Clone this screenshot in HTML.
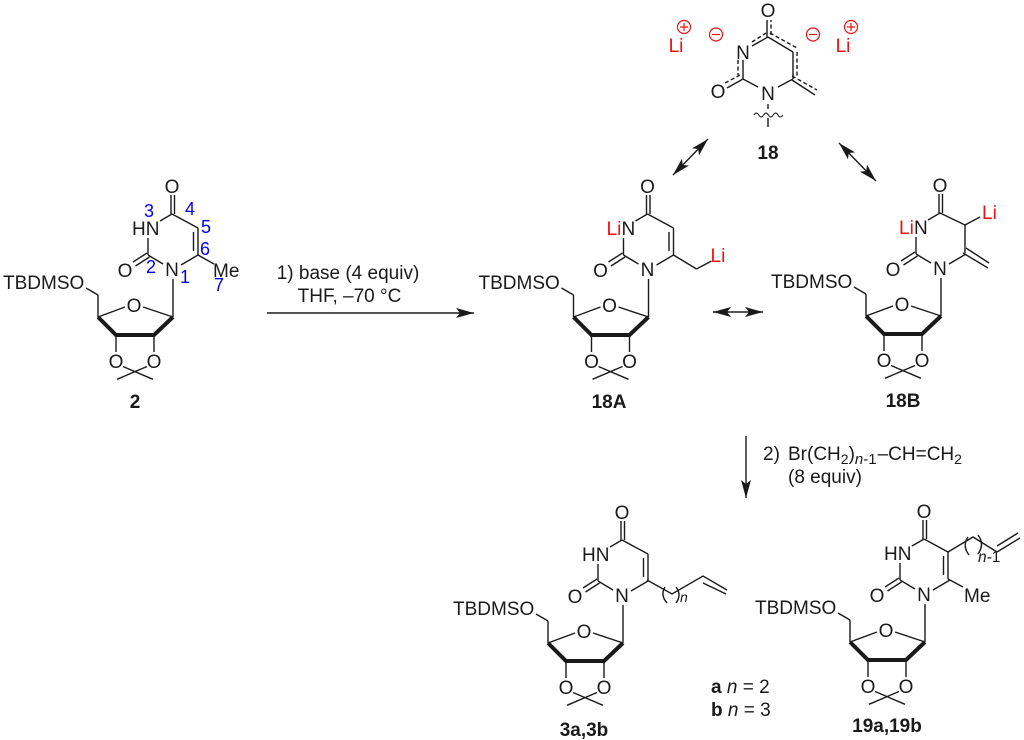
<!DOCTYPE html>
<html><head><meta charset="utf-8"><style>
html,body{margin:0;padding:0;background:#fff}
svg{display:block}
text{font-family:"Liberation Sans",sans-serif;font-size:19px;fill:#1a1a1a}
.m{text-anchor:middle}
.b{font-weight:bold}
.r{fill:#f01010}
.u{fill:#0000ee;font-size:18px;text-anchor:middle}
.l line,.l path{stroke:#1a1a1a;stroke-width:1.4;fill:none}
</style></head><body>
<svg width="1024" height="740" viewBox="0 0 1024 740" xmlns="http://www.w3.org/2000/svg">
<defs>
<marker id="h" markerUnits="userSpaceOnUse" markerWidth="20" markerHeight="12" refX="18" refY="5" orient="auto-start-reverse"><path d="M18,5L0,0L4,5L0,10z" fill="#1a1a1a"/></marker>
<g id="core" class="l">
<line x1="171" y1="214" x2="171" y2="195"/><line x1="174.5" y1="214" x2="174.5" y2="195"/>
<line x1="172" y1="214" x2="160" y2="221"/>
<line x1="148" y1="255" x2="148" y2="238"/>
<line x1="163" y1="264" x2="148" y2="255"/>
<line x1="147" y1="253" x2="133" y2="262"/><line x1="149.5" y1="257" x2="135.5" y2="266"/>
<line x1="198" y1="255" x2="181" y2="265"/>
<line x1="173" y1="279" x2="173" y2="317"/>
<line x1="173" y1="317" x2="143" y2="307"/><line x1="125" y1="307" x2="98" y2="317"/>
<line x1="98" y1="317" x2="98" y2="295"/><line x1="98" y1="295" x2="86" y2="288"/>
<path d="M98,317L116,335L154,335L173,317" style="stroke-width:4;stroke-linejoin:miter"/>
<line x1="116" y1="335" x2="116" y2="352"/><line x1="154" y1="335" x2="154" y2="352"/>
<line x1="123" y1="366.5" x2="153" y2="379.3"/><line x1="147" y1="366.5" x2="117" y2="379.3"/>
</g>
<g id="ene" class="l">
<line x1="172" y1="214" x2="198" y2="228"/><line x1="198" y1="228" x2="198" y2="255"/><line x1="193.5" y1="232" x2="193.5" y2="251"/>
</g>
</defs>

<!-- 2 -->
<g>
<use href="#core"/><use href="#ene"/>
<g class="l"><line x1="198" y1="255" x2="214" y2="264"/></g>
<text class="m" x="172" y="193">O</text>
<text x="132" y="235">HN</text>
<text class="m" x="172" y="276">N</text>
<text class="m" x="125" y="277">O</text>
<text x="213" y="277">Me</text>
<text class="m" x="134" y="312">O</text>
<text x="3" y="289">TBDMSO</text>
<text class="m" x="116" y="368">O</text>
<text class="m" x="154" y="368">O</text>
</g>
<text class="u" x="149" y="217">3</text>
<text class="u" x="190" y="215">4</text>
<text class="u" x="206" y="233">5</text>
<text class="u" x="205" y="255">6</text>
<text class="u" x="185" y="283">1</text>
<text class="u" x="151" y="273">2</text>
<text class="u" x="219" y="291">7</text>
<text class="m b" x="135" y="408">2</text>

<!-- 18A -->
<g transform="translate(475.5,0)">
<use href="#core"/><use href="#ene"/>
<g class="l"><line x1="198" y1="255" x2="221" y2="269"/><line x1="221" y1="269" x2="236" y2="261"/></g>
<text class="m" x="172" y="193">O</text>
<text class="r" x="131" y="235">Li</text><text x="146" y="235">N</text>
<text class="m" x="172" y="276">N</text>
<text class="m" x="125" y="277">O</text>
<text class="r" x="235" y="262">Li</text>
<text class="m" x="134" y="312">O</text>
<text x="3" y="289">TBDMSO</text>
<text class="m" x="116" y="368">O</text>
<text class="m" x="154" y="368">O</text>
</g>
<text class="m b" x="609" y="408">18A</text>

<!-- 18B -->
<g transform="translate(768,-1)">
<use href="#core"/>
<g class="l">
<line x1="172" y1="214" x2="197" y2="226"/><line x1="197" y1="226" x2="197" y2="254"/>
<line x1="197" y1="226" x2="212" y2="218"/>
<line x1="198" y1="249" x2="221" y2="264"/><line x1="195" y1="254" x2="220" y2="269"/>
</g>
<text class="m" x="172" y="193">O</text>
<text class="r" x="131" y="235">Li</text><text x="146" y="235">N</text>
<text class="m" x="172" y="276">N</text>
<text class="m" x="125" y="277">O</text>
<text class="r" x="214" y="220">Li</text>
<text class="m" x="134" y="312">O</text>
<text x="3" y="289">TBDMSO</text>
<text class="m" x="116" y="368">O</text>
<text class="m" x="154" y="368">O</text>
</g>
<text class="m b" x="903" y="407">18B</text>

<!-- 3a,3b -->
<g transform="translate(450,326)">
<use href="#core"/><use href="#ene"/>
<text class="m" x="172" y="193">O</text>
<text x="132" y="235">HN</text>
<text class="m" x="172" y="276">N</text>
<text class="m" x="125" y="277">O</text>
<text class="m" x="134" y="312">O</text>
<text x="3" y="289">TBDMSO</text>
<text class="m" x="116" y="368">O</text>
<text class="m" x="154" y="368">O</text>
</g>
<g class="l">
<path d="M647,580L672,594L703,576L727,590"/>
<line x1="703" y1="583" x2="726" y2="594"/>
<path d="M665,587Q660,595 667,603"/><path d="M676,587Q682,595 676,603"/>
</g>
<text x="680" y="602" style="font-style:italic;font-size:14px">n</text>
<text class="m b" x="584" y="736">3a,3b</text>

<!-- a n / b n -->
<text x="711" y="693"><tspan class="b">a</tspan> <tspan font-style="italic">n</tspan> = 2</text>
<text x="711" y="716"><tspan class="b">b</tspan> <tspan font-style="italic">n</tspan> = 3</text>

<!-- 19a,19b -->
<g transform="translate(752,325)">
<use href="#core"/>
<g class="l">
<line x1="172" y1="214" x2="196" y2="227"/><line x1="196" y1="227" x2="196" y2="254"/><line x1="191.5" y1="231" x2="191.5" y2="250"/>
<line x1="196" y1="254" x2="211" y2="262"/>
</g>
<text class="m" x="172" y="193">O</text>
<text x="132" y="235">HN</text>
<text class="m" x="172" y="276">N</text>
<text class="m" x="125" y="277">O</text>
<text x="212" y="277">Me</text>
<text class="m" x="134" y="312">O</text>
<text x="3" y="289">TBDMSO</text>
<text class="m" x="116" y="368">O</text>
<text class="m" x="154" y="368">O</text>
</g>
<g class="l">
<path d="M948,552L973,537L997,552"/>
<line x1="997" y1="552" x2="1020" y2="538"/><line x1="997" y1="546" x2="1018" y2="533"/>
<path d="M968,537Q962,546 969,555"/><path d="M978,535Q985,544 978,554"/>
</g>
<text x="978" y="562" style="font-style:italic;font-size:15.5px">n-<tspan font-style="normal">1</tspan></text>
<text class="m b" x="887" y="732">19a,19b</text>

<!-- 18 -->
<g class="l">
<line x1="767" y1="37" x2="767" y2="20"/>
<line x1="768" y1="37" x2="752" y2="46"/>
<line x1="743" y1="60" x2="743" y2="79"/>
<line x1="743" y1="79" x2="758" y2="87"/>
<line x1="743" y1="79" x2="727" y2="88"/>
<line x1="778" y1="87" x2="793" y2="79"/>
<line x1="793" y1="79" x2="793" y2="52"/>
<line x1="793" y1="52" x2="768" y2="37"/>
<line x1="792" y1="80" x2="815" y2="95"/>
<line x1="768" y1="104" x2="768" y2="109"/>
<line x1="768" y1="118" x2="768" y2="127"/>
<path d="M754,115q2.4,-4 4.8,0t4.8,0t4.8,0t4.8,0t4.8,0t4.8,0" style="stroke-width:1"/>
</g>
<g class="l" style="stroke-dasharray:4 2.5">
<line x1="771" y1="35" x2="771" y2="20"/>
<line x1="752" y1="42" x2="766" y2="33"/>
<line x1="738" y1="60" x2="738" y2="75"/>
<line x1="740" y1="75" x2="725" y2="83"/>
<line x1="770" y1="33" x2="797" y2="48"/>
<line x1="797" y1="52" x2="797" y2="78"/>
<line x1="792" y1="76" x2="817" y2="90"/>
</g>
<text class="m" x="768" y="17">O</text>
<text class="m" x="743" y="59">N</text>
<text class="m" x="768" y="100">N</text>
<text class="m" x="718" y="98">O</text>
<text class="r m" x="676" y="52">Li</text>
<text class="r m" x="843" y="52">Li</text>
<g fill="none" stroke="#f01010" stroke-width="1.2">
<circle cx="684" cy="27" r="6.5"/><path d="M680,27h8M684,23v8"/>
<circle cx="716" cy="34.5" r="6.5"/><path d="M712,34.5h8"/>
<circle cx="813" cy="34.5" r="6.5"/><path d="M809,34.5h8"/>
<circle cx="851" cy="27" r="6.5"/><path d="M847,27h8M851,23v8"/>
</g>
<text class="m b" x="768" y="159">18</text>

<!-- arrows -->
<g stroke="#1a1a1a" stroke-width="1.4" fill="none">
<line x1="267" y1="313" x2="474" y2="313" marker-end="url(#h)"/>
<line x1="713" y1="312" x2="763" y2="312" marker-start="url(#h)" marker-end="url(#h)"/>
<line x1="708" y1="139" x2="673" y2="175" marker-start="url(#h)" marker-end="url(#h)"/>
<line x1="839" y1="143" x2="876" y2="181" marker-start="url(#h)" marker-end="url(#h)"/>
<line x1="746" y1="436" x2="746" y2="498" marker-end="url(#h)"/>
</g>

<!-- conditions -->
<text class="m" x="348" y="279">1) base (4 equiv)</text>
<text class="m" x="349.5" y="302">THF, –70 °C</text>
<text x="763" y="460">2)</text>
<text x="788" y="460">Br(CH<tspan font-size="14" dy="4">2</tspan><tspan dy="-4">)</tspan><tspan font-size="15" dy="4" font-style="italic">n</tspan><tspan font-size="15">-1</tspan><tspan dy="-4" dx="1">–CH=CH</tspan><tspan font-size="14" dy="4">2</tspan></text>
<text x="788" y="483">(8 equiv)</text>
</svg>
</body></html>
